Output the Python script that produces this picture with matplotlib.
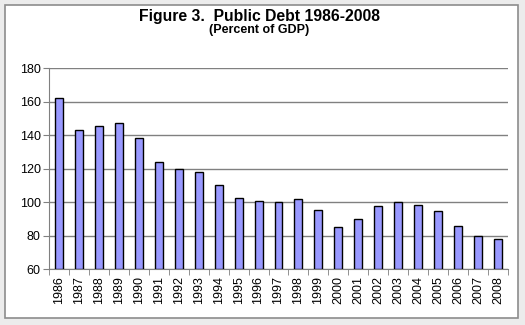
import numpy as np
import matplotlib.pyplot as plt
from matplotlib.patches import Rectangle

# Public debt, percent of GDP
years = [str(y) for y in range(1986, 2009)]
debt = [162.1, 143.0, 145.4, 147.2, 138.2, 123.9, 119.9, 118.3, 110.1, 102.4,
        100.6, 100.0, 101.8, 95.3, 85.1, 89.9, 97.7, 100.0, 98.2, 94.6,
        85.9, 79.9, 77.9]

plt.rcParams['font.family'] = ['Liberation Sans', 'DejaVu Sans']

fig = plt.figure(figsize=(5.25, 3.25), dpi=100, facecolor='#ECECEC')
fig.patches.append(Rectangle((5 / 525, 1 - 318 / 325), 513 / 525, 313 / 325,
                             transform=fig.transFigure, facecolor='white',
                             edgecolor='#8C8C8C', linewidth=1.2, zorder=-10))

ax = fig.add_axes([49 / 525, 1 - 269.3 / 325, 459 / 525, 201 / 325])
ax.set_facecolor('white')
x = np.arange(len(years))
ax.bar(x, np.array(debt) - 60, bottom=60, width=0.4, color='#9999FF',
       edgecolor='black', linewidth=1.0, zorder=3)

ax.set_xlim(-0.5, len(years) - 0.5)
ax.set_ylim(60, 180)
ax.set_yticks(range(60, 181, 20))
ax.yaxis.grid(True, color='#808080', linewidth=1.0, zorder=0)
ax.set_axisbelow(True)

ax.set_xticks(x)
ax.set_xticklabels(years, rotation=90, fontsize=9)
ax.set_xticks(np.arange(-0.5, len(years)), minor=True)
ax.tick_params(axis='x', which='major', length=0, pad=5)
ax.tick_params(axis='x', which='minor', length=4, color='#808080')
ax.tick_params(axis='y', length=4, color='#808080', labelsize=9, pad=2)

for side in ['top', 'right']:
    ax.spines[side].set_visible(False)
for side in ['left', 'bottom']:
    ax.spines[side].set_color('#808080')

fig.text(0.494, 1 - 16 / 325, 'Figure 3.  Public Debt 1986-2008', ha='center',
         va='center', fontsize=11.3, fontweight='bold')
fig.text(0.494, 1 - 30 / 325, '(Percent of GDP)', ha='center', va='center',
         fontsize=9, fontweight='bold')

fig.savefig('out.png', dpi=100, facecolor=fig.get_facecolor())
